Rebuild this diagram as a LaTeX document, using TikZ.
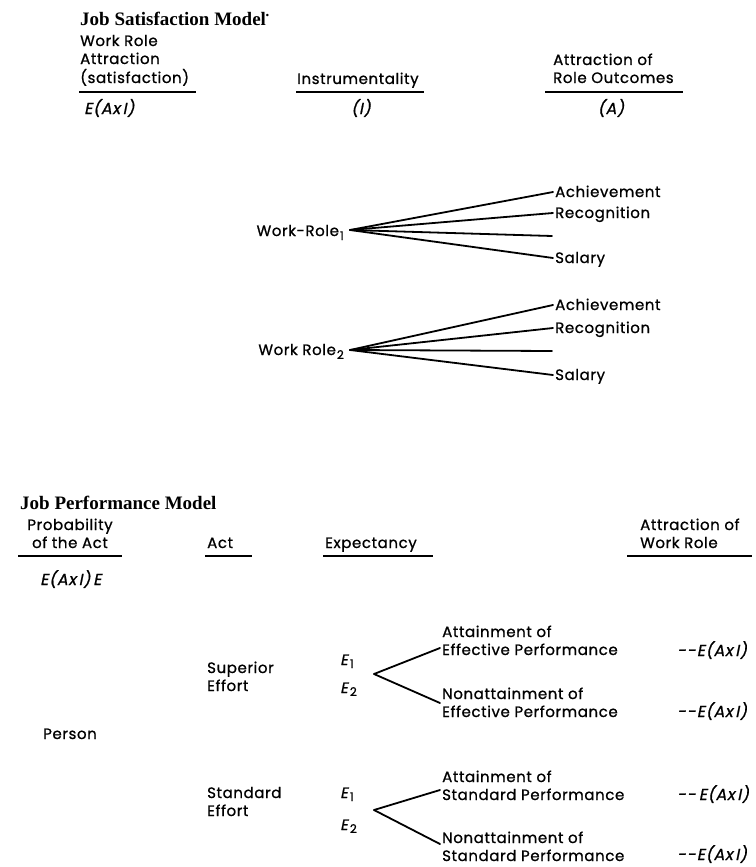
\documentclass[tikz,border=0pt]{standalone}
\usepackage{fontspec}
\setmainfont{Liberation Serif}
\newfontfamily\labfont[LetterSpace=4,FakeBold=0.9]{Poppins}
\newfontfamily\labslant[LetterSpace=4,FakeSlant=0.2,FakeBold=0.9]{Poppins}
\newcommand{\lowsub}[2][-4pt]{\raisebox{#1}{\labfont\fontsize{12}{12}\selectfont #2}}
\tikzset{
  lab/.style={font=\labfont\fontsize{15}{17}\selectfont, inner sep=0pt, anchor=base west},
  ttl/.style={font=\bfseries\fontsize{19}{21}\selectfont, inner sep=0pt, anchor=base west},
  expr/.style={font=\labslant\fontsize{16}{18}\selectfont, inner sep=0pt, anchor=base west},
  esub/.style={font=\labslant\fontsize{15}{15}\selectfont, inner sep=0pt, anchor=base west},
  rule/.style={line width=1.5pt},
  branch/.style={line width=1.8pt, line cap=round},
}
\begin{document}
\begin{tikzpicture}[x=1pt,y=-1pt]
\useasboundingbox (0,0) rectangle (755,867);

% ---------- Job satisfaction model ----------
\node[ttl] (t1) at (80,26) {Job Satisfaction Model\raisebox{7pt}{\fontsize{9}{9}\selectfont\textbullet}};

\node[lab] (h1a) at (80,46) {Work Role};
\node[lab] (h1b) at (80,64) {Attraction};
\node[lab] (h1c) at (80,83) {(satisfaction)};
\draw[rule] (79,92) -- (196,92);
\node[expr] (x1) at (84,114) {E(Ax\,I)};

\node[lab] (h2) at (297,84) {Instrumentality};
\draw[rule] (296,92) -- (424,92);
\node[expr, anchor=base] (x2) at (361,114) {(I)};

\node[lab] (h3a) at (553,65) {Attraction of};
\node[lab] (h3b) at (553,83) {Role Outcomes};
\draw[rule] (545,92) -- (683,92);
\node[expr, anchor=base] (x3) at (611,114) {(A)};

% first work role and its outcomes
\coordinate (v1) at (350,230);
\node[lab, anchor=base east] (wr1) at (344,236) {Work-Role\kern1pt\lowsub{1}};
\node[lab] (o11) at (555,197) {Achievement};
\node[lab] (o12) at (555,218) {Recognition};
\coordinate (e13) at (552,236);
\node[lab] (o14) at (555,263) {Salary};
\draw[branch] (v1) -- ([xshift=-2pt,yshift=5pt]o11.base west);
\draw[branch] (v1) -- ([xshift=-2pt,yshift=5pt]o12.base west);
\draw[branch] (v1) -- (e13);
\draw[branch] (v1) -- ([xshift=-2pt,yshift=5pt]o14.base west);

% second work role and its outcomes
\coordinate (v2) at (350,350);
\node[lab, anchor=base east] (wr2) at (344,355) {Work Role\kern1pt\lowsub{2}};
\node[lab] (o21) at (555,310) {Achievement};
\node[lab] (o22) at (555,333) {Recognition};
\coordinate (e23) at (552,351);
\node[lab] (o24) at (555,380) {Salary};
\draw[branch] (v2) -- ([xshift=-2pt,yshift=5pt]o21.base west);
\draw[branch] (v2) -- ([xshift=-2pt,yshift=5pt]o22.base west);
\draw[branch] (v2) -- (e23);
\draw[branch] (v2) -- ([xshift=-2pt,yshift=5pt]o24.base west);

% ---------- Job performance model ----------
\node[ttl] (t2) at (20,509) {Job Performance Model};

\node[lab, anchor=base] (p1) at (70,530) {Probability};
\node[lab, anchor=base] (p2) at (70,548) {of the Act};
\draw[rule] (18,556) -- (122,556);
\node[expr] (x4) at (40,585) {E(Ax\,I)\,E};

\node[lab] (ac) at (207,548) {Act};
\draw[rule] (205,556) -- (252,556);
\node[lab] (ex) at (325,548) {Expectancy};
\draw[rule] (323,556) -- (433,556);
\node[lab] (w1) at (640,530) {Attraction of};
\node[lab] (w2) at (640,548) {Work Role};
\draw[rule] (627,556) -- (752,556);

\node[lab] (pe) at (43,739) {Person};

% superior effort
\node[lab] (s1) at (207,673) {Superior};
\node[lab] (s2) at (207,691) {Effort};
\node[esub] (se1) at (340,665) {E\kern2pt\lowsub[-3pt]{1}};
\node[esub] (se2) at (340,693) {E\kern2pt\lowsub[-3pt]{2}};
\coordinate (sv) at (374,674);
\coordinate (su) at (440,648);
\coordinate (sd) at (440,703);
\draw[branch] (sv) -- (su);
\draw[branch] (sv) -- (sd);
\node[lab] (r1a) at (442,637) {Attainment of};
\node[lab] (r1b) at (442,655) {Effective Performance};
\node[expr] (r1c) at (677,656) {-\kern1pt-\kern1pt E(Ax\,I)};
\node[lab] (r2a) at (442,699) {Nonattainment of};
\node[lab] (r2b) at (442,717) {Effective Performance};
\node[expr] (r2c) at (677,717) {-\kern1pt-\kern1pt E(Ax\,I)};

% standard effort
\node[lab] (d1) at (207,798) {Standard};
\node[lab] (d2) at (207,816) {Effort};
\node[esub] (de1) at (340,798) {E\kern2pt\lowsub[-3pt]{1}};
\node[esub] (de2) at (340,830) {E\kern2pt\lowsub[-3pt]{2}};
\coordinate (dv) at (374,810);
\coordinate (du) at (440,790);
\coordinate (dd) at (440,844);
\draw[branch] (dv) -- (du);
\draw[branch] (dv) -- (dd);
\node[lab] (r3a) at (442,782) {Attainment of};
\node[lab] (r3b) at (442,800) {Standard Performance};
\node[expr] (r3c) at (677,800) {-\kern1pt-\kern3pt E(Ax\,I)};
\node[lab] (r4a) at (442,843) {Nonattainment of};
\node[lab] (r4b) at (442,861) {Standard Performance};
\node[expr] (r4c) at (677,860) {-\kern1pt-\kern1pt E(Ax\,I)};
\end{tikzpicture}
\end{document}
